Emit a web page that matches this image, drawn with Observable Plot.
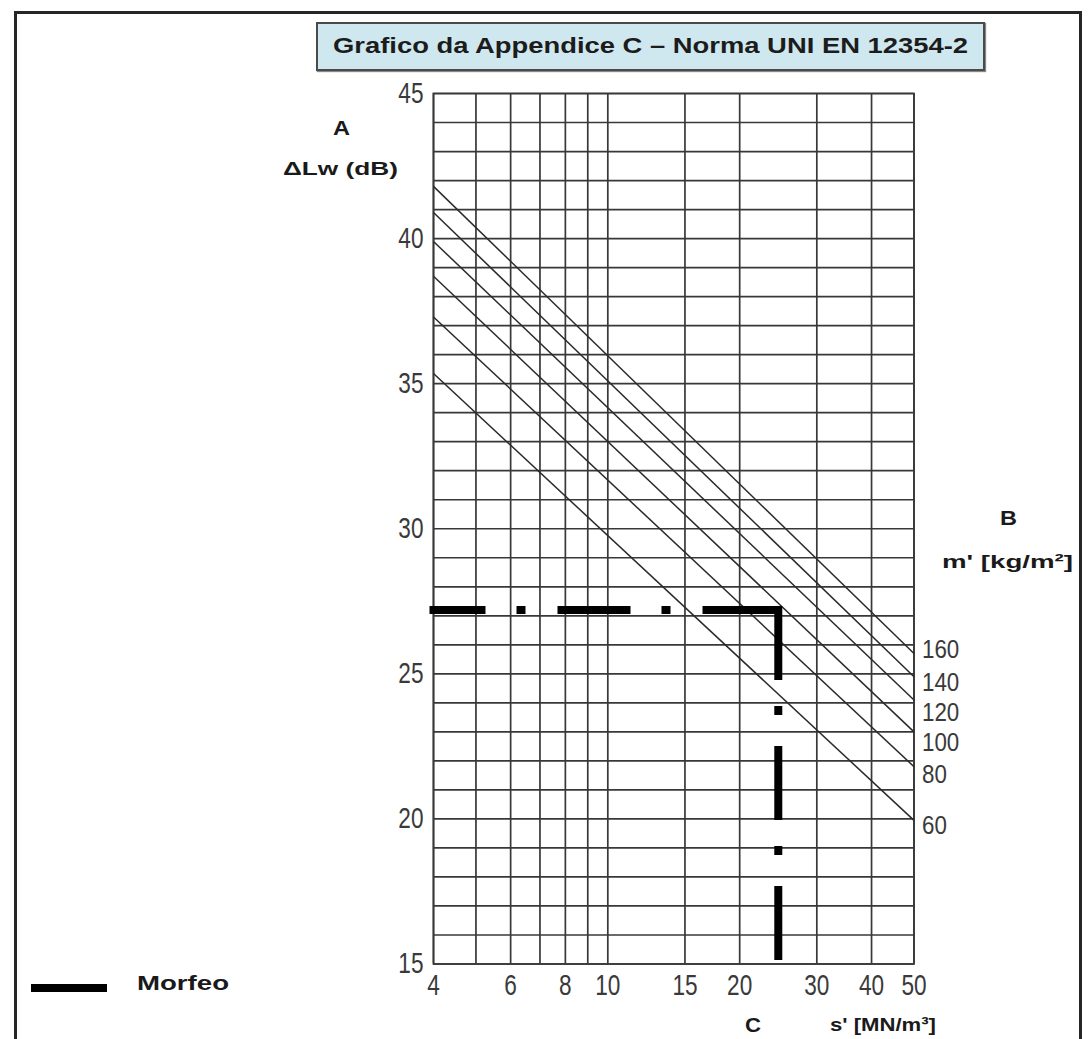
<!DOCTYPE html>
<html>
<head>
<meta charset="utf-8">
<script src="https://cdn.jsdelivr.net/npm/d3@7"></script>
<script src="https://cdn.jsdelivr.net/npm/@observablehq/plot@0.6"></script>
<style>
  html, body { margin: 0; padding: 0; width: 1089px; height: 1039px; overflow: hidden; background: #fff; }
  #chart { position: absolute; left: 0; top: 0; }
  .lbl { position: absolute; white-space: nowrap; font-family: "Liberation Sans", Arial, sans-serif; font-weight: bold; color: #1a1a1a; transform-origin: 0 50%; }
</style>
</head>
<body>
<div id="frame" style="position:absolute; left:14px; top:11px; width:1062px; height:1100px; border:3px solid #262626;"></div>
<div id="titlebox" style="position:absolute; left:316px; top:22px; width:665px; height:45px; border:2px solid #4a4a4a; background:#cfe8ef; box-shadow:1px 1px 1px #888;"></div>
<div id="chart"></div>
<div id="legendline" style="position:absolute; left:31px; top:984px; width:76px; height:8px; background:#000;"></div>
<script>
// ---- data ----
const xGrid = [4, 5, 6, 7, 8, 9, 10, 15, 20, 30, 40, 50];
const xTickLabels = [4, 6, 8, 10, 15, 20, 30, 40, 50];
const yGrid = [15,16,17,18,19,20,21,22,23,24,25,26,27,28,29,30,31,32,33,34,35,36,37,38,39,40,41,42,43,44,45];
const yTickLabels = [15, 20, 25, 30, 35, 40, 45];
const masses = [60, 80, 100, 120, 140, 160];          // m' [kg/m²]
const dLwAtS4 = [35.35, 37.3, 38.7, 39.9, 40.9, 41.8];   // ΔLw at s' = 4
const dLwAtS50 = [19.95, 21.8, 23.0, 24.1, 24.9, 25.7];  // ΔLw at s' = 50
const massLabelDb = [19.78, 21.53, 22.64, 23.67, 24.71, 25.84];
const morfeoS = 24.5;     // s' [MN/m³]
const morfeoDb = 27.2;    // ΔLw [dB]
const sMin = 4, sMax = 50, dbMin = 15, dbMax = 45;

const diagonals = masses.map((m, i) => ({m, a: dLwAtS4[i], b: dLwAtS50[i], lab: massLabelDb[i]}));
const hPath = [{s: sMin, db: morfeoDb}, {s: morfeoS, db: morfeoDb}];
const vPath = [{s: morfeoS, db: morfeoDb}, {s: morfeoS, db: dbMin}];

const gridColor = "#383838";
const numFont = "Liberation Sans, Arial, sans-serif";

const svg = Plot.plot({
  width: 1089,
  height: 1039,
  marginLeft: 433,
  marginRight: 175.5,
  marginTop: 93,
  marginBottom: 75.5,
  x: {type: "log", domain: [sMin, sMax], axis: null},
  y: {domain: [dbMin, dbMax], axis: null},
  style: {background: "none", overflow: "visible"},
  marks: [
    Plot.ruleY(yGrid, {stroke: gridColor, strokeWidth: 1.7}),
    Plot.ruleX(xGrid, {stroke: gridColor, strokeWidth: 1.7}),
    Plot.frame({stroke: gridColor, strokeWidth: 1.7}),
    Plot.link(diagonals, {x1: () => sMin, x2: () => sMax, y1: "a", y2: "b", stroke: "#2a2a2a", strokeWidth: 1.5}),
    Plot.line(hPath, {x: "s", y: "db", stroke: "#000", strokeWidth: 8, strokeDasharray: "65,39,1,40", strokeDashoffset: 17, strokeLinecap: "square"}),
    Plot.line(vPath, {x: "s", y: "db", stroke: "#000", strokeWidth: 8, strokeDasharray: "66,34,1,39", strokeLinecap: "square"}),
    Plot.text(yTickLabels, {x: () => sMin, y: d => d, text: d => String(d), dx: -10, textAnchor: "end", fontSize: 29, fontFamily: numFont, fill: "#3a3a3a"}),
    Plot.text(xTickLabels, {x: d => d, y: () => dbMin, text: d => String(d), dy: 22, textAnchor: "middle", fontSize: 29, fontFamily: numFont, fill: "#3a3a3a"}),
    Plot.text(diagonals, {x: () => sMax, y: "lab", text: d => String(d.m), dx: 8, textAnchor: "start", fontSize: 26, fontFamily: numFont, fill: "#3a3a3a"})
  ]
});
document.getElementById("chart").append(svg);

// condense the numeric labels horizontally (narrow face look)
svg.querySelectorAll("text").forEach(t => {
  const b = t.getBBox();
  const anchor = getComputedStyle(t).textAnchor;
  const ax = anchor === "end" ? b.x + b.width : anchor === "start" ? b.x : b.x + b.width / 2;
  const k = anchor === "start" ? 0.86 : 0.78;
  const prev = t.getAttribute("transform") || "";
  t.setAttribute("transform", `${prev} translate(${ax},0) scale(${k},1) translate(${-ax},0)`);
});

// HTML labels fitted to widths
function label(txt, x1, x2, cy, size, color) {
  const d = document.createElement("div");
  d.className = "lbl";
  d.textContent = txt;
  d.style.left = x1 + "px";
  d.style.top = (cy - size * 0.6) + "px";
  d.style.fontSize = size + "px";
  d.style.lineHeight = (size * 1.2) + "px";
  if (color) d.style.color = color;
  document.body.append(d);
  const w = d.getBoundingClientRect().width;
  d.style.transform = `scaleX(${(x2 - x1) / w})`;
  return d;
}
label("Grafico da Appendice C – Norma UNI EN 12354-2", 333, 968, 46, 22, "#1c1c1c");
label("A", 333, 350, 128, 20);
label("ΔLw (dB)", 283, 398, 169, 19);
label("B", 1000, 1017, 518, 20);
label("m' [kg/m²]", 942, 1073, 562, 19);
label("C", 745, 761, 1025, 20);
label("s' [MN/m³]", 830, 936, 1025, 19);
label("Morfeo", 137, 229, 983, 20);
</script>
</body>
</html>
